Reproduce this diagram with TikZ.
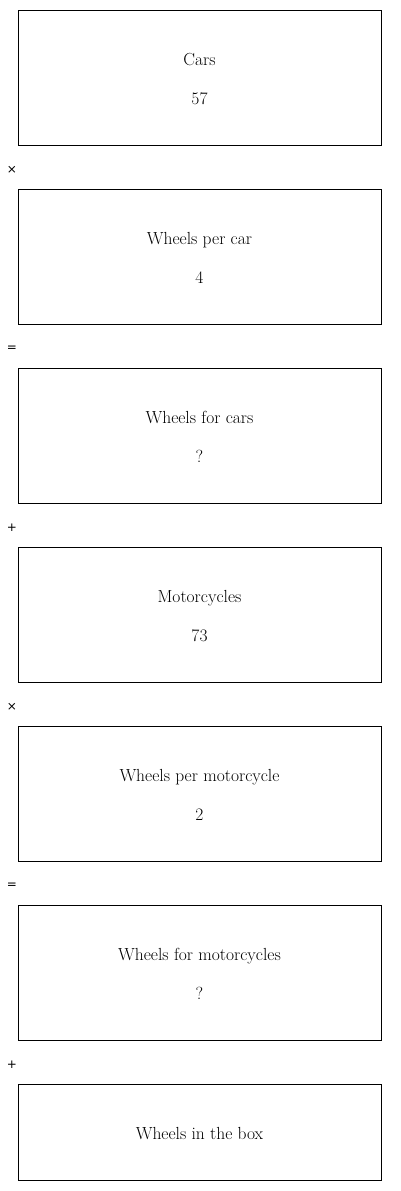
\documentclass[tikz,border=0pt]{standalone}
\usepackage{fontspec}
\newfontfamily\opfont{DejaVu Sans}
\begin{document}
\begin{tikzpicture}[x=1pt,y=-1pt,
  stepbox/.style={draw,line width=1pt,minimum width=363pt,anchor=north west,inner sep=0pt},
  lbl/.style={font=\fontsize{17.5}{20}\selectfont,anchor=base,inner sep=0pt},
  opsym/.style={font=\opfont\fontsize{12}{14}\selectfont}]
\useasboundingbox (0,0) rectangle (400,1191);
\node[stepbox,minimum height=135pt] (b1) at (18,10) {};
\node[stepbox,minimum height=135pt] (b2) at (18,189) {};
\node[stepbox,minimum height=135pt] (b3) at (18,368) {};
\node[stepbox,minimum height=135pt] (b4) at (18,547) {};
\node[stepbox,minimum height=135pt] (b5) at (18,726) {};
\node[stepbox,minimum height=135pt] (b6) at (18,905) {};
\node[stepbox,minimum height=96pt] (b7) at (18,1084) {};
\node[lbl] (t1) at (199.5,65) {Cars};
\node[lbl] (v1) at (199.5,104) {57};
\node[lbl] (t2) at (199.5,244) {Wheels per car};
\node[lbl] (v2) at (199.5,283) {4};
\node[lbl] (t3) at (199.5,423) {Wheels for cars};
\node[lbl] (v3) at (199.5,462) {?};
\node[lbl] (t4) at (199.5,602) {Motorcycles};
\node[lbl] (v4) at (199.5,641) {73};
\node[lbl] (t5) at (199.5,781) {Wheels per motorcycle};
\node[lbl] (v5) at (199.5,820) {2};
\node[lbl] (t6) at (199.5,960) {Wheels for motorcycles};
\node[lbl] (v6) at (199.5,999) {?};
\node[lbl] (t7) at (199.5,1139) {Wheels in the box};
\node[opsym] (o1) at (12,170) {×};
\node[opsym] (o2) at (12,349) {=};
\node[opsym] (o3) at (12,528) {+};
\node[opsym] (o4) at (12,707) {×};
\node[opsym] (o5) at (12,886) {=};
\node[opsym] (o6) at (12,1065) {+};
\end{tikzpicture}
\end{document}
